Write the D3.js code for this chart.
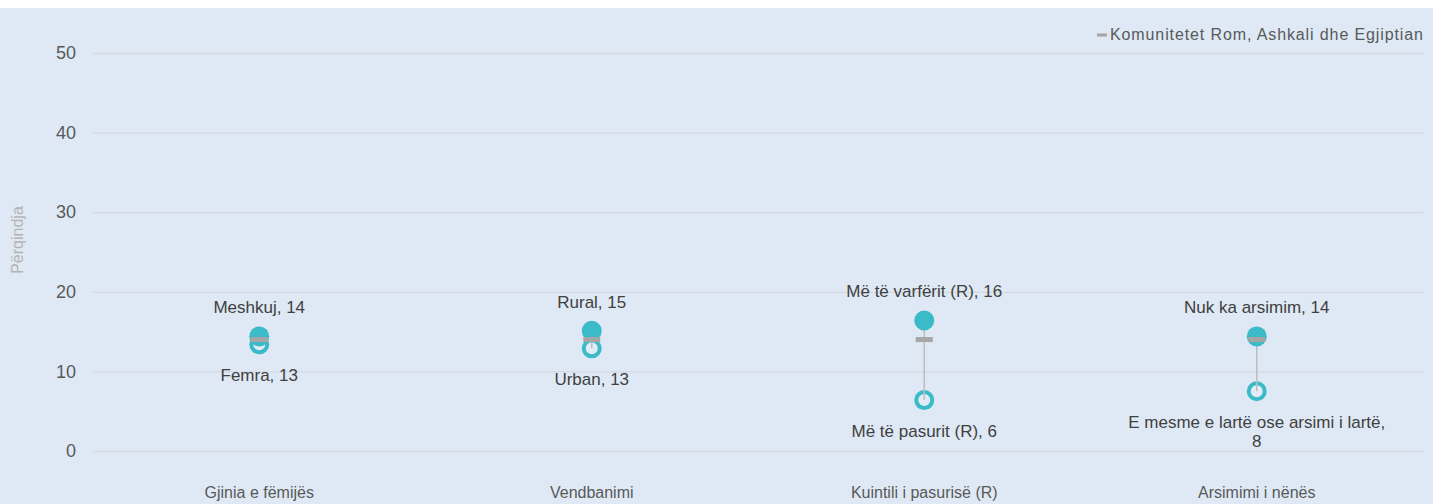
<!DOCTYPE html>
<html>
<head>
<meta charset="utf-8">
<script src="https://d3js.org/d3.v7.min.js"></script>
<style>
  body { margin: 0; background: #fff; }
  svg { display: block; font-family: "Liberation Sans", Arial, sans-serif; }
</style>
</head>
<body>
<svg width="1433" height="504"></svg>
<script>
var categories = ["Gjinia e fëmijës", "Vendbanimi", "Kuintili i pasurisë (R)", "Arsimimi i nënës"];
var highLabels = ["Meshkuj", "Rural", "Më të varfërit (R)", "Nuk ka arsimim"];
var highValues = [14.4, 15.1, 16.4, 14.4];
var lowLabels = ["Femra", "Urban", "Më të pasurit (R)", "E mesme e lartë ose arsimi i lartë"];
var lowValues = [13.4, 12.9, 6.4, 7.5];
var romaValues = [14, 14, 14, 14];
var yTicks = [0, 10, 20, 30, 40, 50];
var legendLabel = "Komunitetet Rom, Ashkali dhe Egjiptian";
var yTitle = "Përqindja";

var teal = "#3bbac8", grey = "#a6a6a6", textCol = "#595959";

var svg = d3.select("svg");
svg.append("rect").attr("x", 0).attr("y", 8).attr("width", 1433).attr("height", 496)
  .attr("fill", "#dee9f5");

var x = d3.scaleBand().domain(categories).range([93, 1423]);
var y = d3.scaleLinear().domain([0, 50]).range([451, 53]);

// gridlines + y ticks
var yAxis = svg.append("g").attr("transform", "translate(93,0)")
  .call(d3.axisLeft(y).tickValues(yTicks).tickSize(-1330).tickPadding(17));
yAxis.select(".domain").remove();
yAxis.selectAll(".tick line").attr("stroke", "#d3d9df").attr("stroke-width", 1.3);
yAxis.selectAll(".tick text").attr("fill", textCol).attr("font-size", 18)
  .attr("font-family", "Liberation Sans, Arial, sans-serif");

// y title
svg.append("text").attr("transform", "translate(23,240) rotate(-90)")
  .attr("text-anchor", "middle").attr("fill", "#b4b4b4").attr("font-size", 16)
  .text(yTitle);

// category labels
svg.append("g").selectAll("text").data(categories).enter().append("text")
  .attr("x", function(d) { return x(d) + x.bandwidth() / 2; })
  .attr("y", 498).attr("text-anchor", "middle").attr("fill", textCol)
  .attr("font-size", 16).text(function(d) { return d; });

var rows = categories.map(function(c, i) {
  return { cat: c, hi: highValues[i], lo: lowValues[i], roma: romaValues[i],
           hiLab: highLabels[i], loLab: lowLabels[i] };
});
var cx = function(d) { return x(d.cat) + x.bandwidth() / 2; };

var g = svg.append("g");
// hollow markers
g.selectAll(".lo").data(rows).enter().append("circle")
  .attr("cx", cx).attr("cy", function(d) { return y(d.lo); }).attr("r", 8)
  .attr("fill", "#e2ecf6").attr("stroke", teal).attr("stroke-width", 4);
// connector
g.selectAll(".conn").data(rows).enter().append("line")
  .attr("x1", cx).attr("x2", cx)
  .attr("y1", function(d) { return y(d.hi); }).attr("y2", function(d) { return y(d.lo); })
  .attr("stroke", "#bdbdbd").attr("stroke-width", 1.5);
// filled markers
g.selectAll(".hi").data(rows).enter().append("circle")
  .attr("cx", cx).attr("cy", function(d) { return y(d.hi); }).attr("r", 10)
  .attr("fill", teal);
// roma marker
g.selectAll(".roma").data(rows).enter().append("rect")
  .attr("x", function(d) { return cx(d) - 8.5; })
  .attr("y", function(d) { return y(d.roma) - 2.5; })
  .attr("width", 17).attr("height", 5).attr("fill", grey);

// data labels
g.selectAll(".hiLab").data(rows).enter().append("text")
  .attr("x", cx).attr("y", function(d) { return y(d.hi) - 23; })
  .attr("text-anchor", "middle").attr("fill", "#404040").attr("font-size", 17)
  .text(function(d) { return d.hiLab + ", " + Math.round(d.hi); });

g.selectAll(".loLab").data(rows).enter().append("text")
  .attr("text-anchor", "middle").attr("fill", "#404040").attr("font-size", 17)
  .each(function(d) {
    var t = d3.select(this), px = cx(d), py = y(d.lo) + 37;
    var full = d.loLab + ", " + Math.round(d.lo);
    t.text(full).attr("x", px).attr("y", py);
    if (this.getComputedTextLength() > 260) {
      t.text(null);
      t.append("tspan").attr("x", px).attr("y", py).text(d.loLab + ",");
      t.append("tspan").attr("x", px).attr("y", py + 19).text(Math.round(d.lo));
    }
  });

// legend
var leg = svg.append("g");
leg.append("text").attr("x", 1423).attr("y", 40).attr("text-anchor", "end")
  .attr("fill", textCol).attr("font-size", 16).attr("textLength", 313)
  .text(legendLabel);
leg.append("rect").attr("x", 1097).attr("y", 33.5).attr("width", 10).attr("height", 3)
  .attr("fill", grey);
</script>
</body>
</html>
